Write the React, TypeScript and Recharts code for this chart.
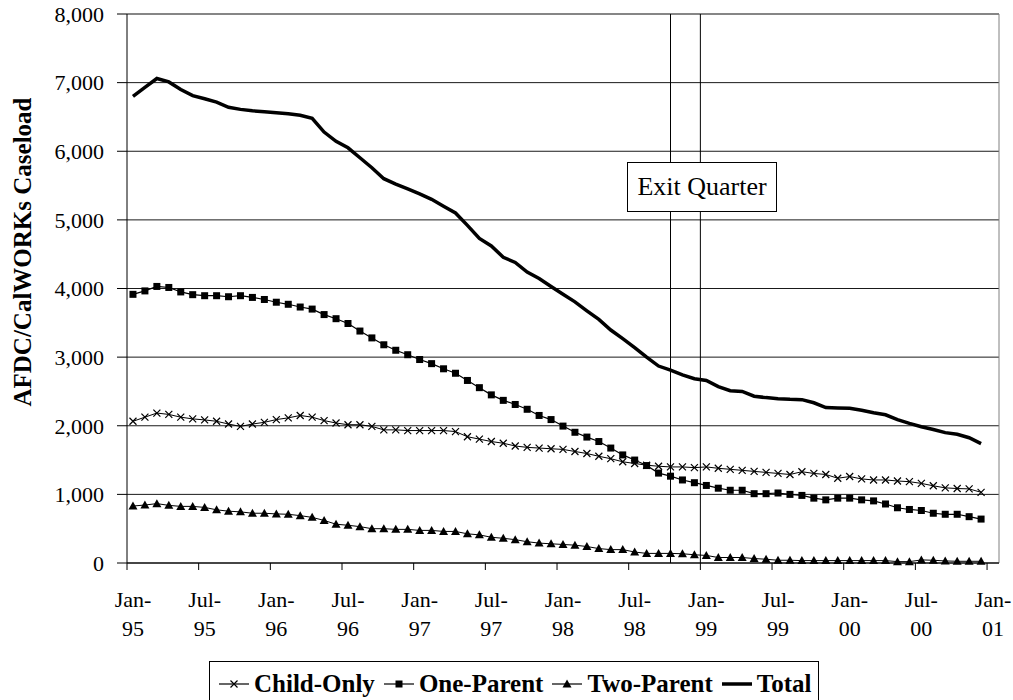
import { LineChart, Line, XAxis, YAxis, CartesianGrid, ReferenceLine } from "recharts";

// monthly caseload, Jan-95 .. Dec-00
const months = [
  "Jan-95", "Feb-95", "Mar-95", "Apr-95", "May-95", "Jun-95", "Jul-95", "Aug-95", "Sep-95", "Oct-95", "Nov-95", "Dec-95",
  "Jan-96", "Feb-96", "Mar-96", "Apr-96", "May-96", "Jun-96", "Jul-96", "Aug-96", "Sep-96", "Oct-96", "Nov-96", "Dec-96",
  "Jan-97", "Feb-97", "Mar-97", "Apr-97", "May-97", "Jun-97", "Jul-97", "Aug-97", "Sep-97", "Oct-97", "Nov-97", "Dec-97",
  "Jan-98", "Feb-98", "Mar-98", "Apr-98", "May-98", "Jun-98", "Jul-98", "Aug-98", "Sep-98", "Oct-98", "Nov-98", "Dec-98",
  "Jan-99", "Feb-99", "Mar-99", "Apr-99", "May-99", "Jun-99", "Jul-99", "Aug-99", "Sep-99", "Oct-99", "Nov-99", "Dec-99",
  "Jan-00", "Feb-00", "Mar-00", "Apr-00", "May-00", "Jun-00", "Jul-00", "Aug-00", "Sep-00", "Oct-00", "Nov-00", "Dec-00",
];

const childOnly = [
  2065, 2125, 2185, 2165, 2125, 2100, 2085, 2065, 2025, 1990, 2025, 2050,
  2090, 2115, 2150, 2125, 2075, 2040, 2015, 2015, 1990, 1940, 1940, 1930,
  1930, 1930, 1930, 1915, 1840, 1805, 1770, 1745, 1705, 1685, 1675, 1665,
  1655, 1625, 1595, 1555, 1520, 1475, 1450, 1425, 1410, 1400, 1400, 1390,
  1400, 1380, 1365, 1350, 1335, 1320, 1305, 1290, 1330, 1305, 1290, 1235,
  1260, 1225, 1210, 1210, 1195, 1185, 1160, 1125, 1095, 1085, 1080, 1030,
];

const oneParent = [
  3915, 3965, 4030, 4015, 3950, 3910, 3895, 3895, 3880, 3895, 3870, 3840,
  3800, 3770, 3730, 3700, 3620, 3560, 3490, 3380, 3280, 3180, 3100, 3035,
  2965, 2905, 2830, 2765, 2660, 2555, 2450, 2370, 2310, 2240, 2150, 2090,
  1995, 1905, 1835, 1770, 1675, 1575, 1500, 1420, 1310, 1265, 1210, 1170,
  1130, 1090, 1060, 1060, 1010, 1010, 1020, 1000, 985, 945, 920, 945,
  945, 920, 905, 860, 805, 780, 765, 725, 710, 710, 675, 640,
];

const twoParent = [
  830, 845, 865, 840, 825, 825, 810, 775, 755, 745, 725, 725,
  715, 710, 690, 665, 620, 565, 550, 530, 500, 500, 490, 490,
  475, 475, 460, 460, 425, 410, 375, 360, 340, 310, 290, 280,
  270, 260, 240, 210, 195, 195, 160, 140, 140, 140, 135, 120,
  110, 80, 80, 80, 65, 55, 40, 40, 35, 35, 35, 35,
  35, 35, 35, 35, 20, 20, 45, 40, 30, 25, 25, 25,
];

const total = [
  6800, 6930, 7060, 7010, 6900, 6810, 6765, 6715, 6640, 6610, 6590, 6575,
  6560, 6545, 6525, 6480, 6280, 6145, 6050, 5905, 5760, 5600, 5520, 5450,
  5380, 5300, 5200, 5100, 4920, 4730, 4620, 4455, 4380, 4240, 4145, 4030,
  3915, 3805, 3675, 3550, 3395, 3270, 3140, 3000, 2870, 2810, 2740, 2685,
  2660, 2570, 2510, 2500, 2430, 2410, 2395, 2385, 2380, 2335, 2265, 2260,
  2255, 2225, 2190, 2160, 2090, 2035, 1985, 1945, 1900, 1875, 1825, 1740,
];

const xTickLabels = [
  "Jan-95", "Jul-95", "Jan-96", "Jul-96", "Jan-97", "Jul-97", "Jan-98",
  "Jul-98", "Jan-99", "Jul-99", "Jan-00", "Jul-00", "Jan-01",
];
const yTicks = [0, 1000, 2000, 3000, 4000, 5000, 6000, 7000, 8000];
const exitQuarter = [45.5, 48];

// one extra empty slot on the category axis for Jan-01
const CATEGORY_COUNT = 73;

const W = 1013;
const H = 700;
const M = { top: 14, right: 14, left: 0, bottom: 57 };
const Y_AXIS_W = 127;
const PLOT_W = W - M.left - M.right - Y_AXIS_W;
const CAT_W = PLOT_W / CATEGORY_COUNT;

const FONT = "'Liberation Serif', 'Times New Roman', Times, serif";

const data = months.map((m, i) => ({
  month: m,
  x: i + 0.5,
  childOnly: childOnly[i],
  oneParent: oneParent[i],
  twoParent: twoParent[i],
  total: total[i],
}));

const labelTicks = xTickLabels.map((_, k) => k * 6 + 0.5);

function XTick(props: any) {
  const { x, y, index } = props;
  const [mon, yr] = xTickLabels[index].split("-");
  const markX = x - CAT_W / 2;
  return (
    <g>
      <line x1={markX} x2={markX} y1={y} y2={y + 7} stroke="#000" />
      <text x={x} y={y + 44} textAnchor="middle" fontFamily={FONT} fontSize={22} fill="#000">
        {mon}-
      </text>
      <text x={x} y={y + 73} textAnchor="middle" fontFamily={FONT} fontSize={22} fill="#000">
        {yr}
      </text>
    </g>
  );
}

function XMark(props: any) {
  const { cx, cy } = props;
  if (cx == null || cy == null) return null;
  const r = 3.5;
  return (
    <path
      d={`M${cx - r},${cy - r}L${cx + r},${cy + r}M${cx - r},${cy + r}L${cx + r},${cy - r}`}
      stroke="#000"
      strokeWidth={1.2}
      fill="none"
    />
  );
}

function SquareMark(props: any) {
  const { cx, cy } = props;
  if (cx == null || cy == null) return null;
  return <rect x={cx - 3.5} y={cy - 3.5} width={7} height={7} fill="#000" />;
}

function TriangleMark(props: any) {
  const { cx, cy } = props;
  if (cx == null || cy == null) return null;
  return <path d={`M${cx},${cy - 4.5}L${cx + 4.5},${cy + 3.5}L${cx - 4.5},${cy + 3.5}Z`} fill="#000" />;
}

function LegendSymbol({ kind }: { kind: string }) {
  return (
    <svg width={32} height={14} style={{ display: "block" }}>
      <line x1={1} x2={31} y1={7} y2={7} stroke="#000" strokeWidth={kind === "total" ? 3.5 : 1.2} />
      {kind === "x" && <path d="M12.5,3.5L19.5,10.5M12.5,10.5L19.5,3.5" stroke="#000" strokeWidth={1.2} />}
      {kind === "square" && <rect x={12.5} y={3.5} width={7} height={7} fill="#000" />}
      {kind === "triangle" && <path d="M16,2.5L20.5,10.5L11.5,10.5Z" fill="#000" />}
    </svg>
  );
}

const legendItems = [
  { kind: "x", label: "Child-Only" },
  { kind: "square", label: "One-Parent" },
  { kind: "triangle", label: "Two-Parent" },
  { kind: "total", label: "Total" },
];

export default function App() {
  return (
    <div
      style={{
        position: "absolute",
        left: 0,
        top: 0,
        width: W,
        height: H,
        overflow: "hidden",
        background: "#fff",
      }}
    >
      <LineChart width={W} height={H} data={data} margin={M}>
        <CartesianGrid horizontal vertical={false} stroke="#000" strokeOpacity={0.9} />
        <XAxis
          type="number"
          dataKey="x"
          domain={[0, CATEGORY_COUNT]}
          ticks={labelTicks}
          interval={0}
          tick={<XTick />}
          tickLine={false}
          tickSize={0}
          tickMargin={0}
          height={80}
          axisLine={{ stroke: "#000" }}
        />
        <YAxis
          type="number"
          domain={[0, 8000]}
          ticks={yTicks}
          interval={0}
          width={Y_AXIS_W}
          tickSize={10}
          tickMargin={13}
          tickLine={{ stroke: "#000" }}
          axisLine={{ stroke: "#000" }}
          tickFormatter={(v: number) => v.toLocaleString("en-US")}
          tick={{ fontFamily: FONT, fontSize: 22, fill: "#000" }}
        />
        <ReferenceLine y={8000} stroke="#808080" />
        <ReferenceLine x={CATEGORY_COUNT} stroke="#808080" />
        {exitQuarter.map((q) => (
          <ReferenceLine key={q} x={q} stroke="#000" />
        ))}
        <Line
          type="linear"
          dataKey="childOnly"
          stroke="#000"
          strokeWidth={1}
          dot={<XMark />}
          activeDot={false}
          isAnimationActive={false}
        />
        <Line
          type="linear"
          dataKey="oneParent"
          stroke="#000"
          strokeWidth={1.2}
          dot={<SquareMark />}
          activeDot={false}
          isAnimationActive={false}
        />
        <Line
          type="linear"
          dataKey="twoParent"
          stroke="#000"
          strokeWidth={1}
          dot={<TriangleMark />}
          activeDot={false}
          isAnimationActive={false}
        />
        <Line
          type="linear"
          dataKey="total"
          stroke="#000"
          strokeWidth={3.5}
          dot={false}
          activeDot={false}
          isAnimationActive={false}
        />
      </LineChart>

      {/* y axis title */}
      <svg width={60} height={H} style={{ position: "absolute", left: 0, top: 0 }}>
        <text
          transform="translate(31,252) rotate(-90)"
          textAnchor="middle"
          fontFamily={FONT}
          fontSize={25}
          fontWeight="bold"
          fill="#000"
        >
          AFDC/CalWORKs Caseload
        </text>
      </svg>

      <div
        style={{
          position: "absolute",
          left: 627,
          top: 162,
          width: 150,
          height: 50,
          boxSizing: "border-box",
          border: "1px solid #000",
          background: "#fff",
          display: "flex",
          alignItems: "center",
          justifyContent: "center",
          fontFamily: FONT,
          fontSize: 26,
          color: "#000",
          whiteSpace: "nowrap",
        }}
      >
        Exit Quarter
      </div>

      <div
        style={{
          position: "absolute",
          left: 209,
          top: 661,
          height: 50,
          boxSizing: "border-box",
          border: "1px solid #000",
          background: "#fff",
          display: "flex",
          alignItems: "flex-start",
          padding: "8px 6px 0 8px",
          gap: 8,
          fontFamily: FONT,
          fontSize: 25,
          fontWeight: "bold",
          color: "#000",
          whiteSpace: "nowrap",
        }}
      >
        {legendItems.map((it) => (
          <div key={it.label} style={{ display: "flex", alignItems: "center", gap: 4, lineHeight: "28px" }}>
            <LegendSymbol kind={it.kind} />
            <span>{it.label}</span>
          </div>
        ))}
      </div>
    </div>
  );
}
